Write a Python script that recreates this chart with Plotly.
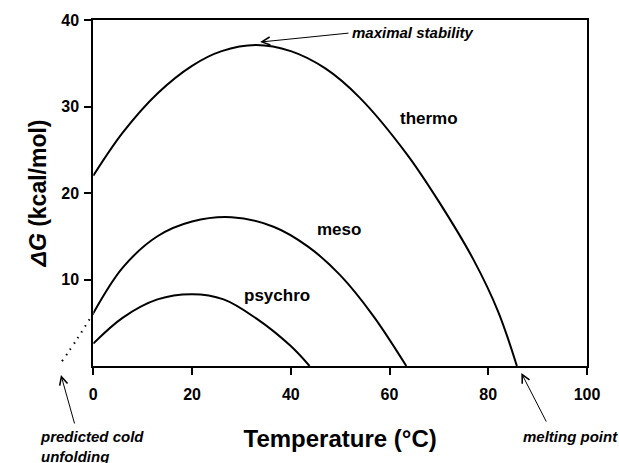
import plotly.graph_objects as go

# Stability curves: free energy of unfolding (kcal/mol) versus temperature (°C)
thermo_t = [0, 6, 13, 20, 26, 33, 40, 47, 54, 63.5, 70, 77, 82, 85.8]
thermo_dg = [22.0, 27.0, 31.5, 34.7, 36.4, 37.1, 36.4, 34.4, 31.0, 24.5, 19.0, 12.3, 6.3, 0.0]

meso_t = [0, 6, 13, 20, 28, 36.5, 43.5, 50, 56.7, 63.4]
meso_dg = [6.1, 11.4, 15.0, 16.7, 17.2, 16.1, 13.8, 10.5, 5.8, 0.0]

psychro_t = [0, 6, 13, 20, 26.4, 33, 40, 43.8]
psychro_dg = [2.6, 5.6, 7.7, 8.3, 7.7, 5.5, 2.3, 0.0]

# extrapolated (cold-denaturation) branch of the meso curve
cold_t = [0, -3.3, -6.5]
cold_dg = [6.1, 3.1, 0.4]

x_ticks = [0, 20, 40, 60, 80, 100]
y_ticks = [10, 20, 30, 40]

FONT = "Arial, Liberation Sans, sans-serif"
W, H = 619, 463
ML, MR, MT, MB = 50, 32, 20, 97
X_RANGE = [0, 100]
Y_RANGE = [0, 40]
X_EXT = -8          # left limit of the extended axis used by the dotted branch

D0 = 0.0806         # left edge of the main x domain (paper fraction)
D_EXT = D0 - (X_RANGE[0] - X_EXT) / (X_RANGE[1] - X_RANGE[0]) * (1 - D0)

plot_w = W - ML - MR
plot_h = H - MT - MB
SX = plot_w * (1 - D0) / (X_RANGE[1] - X_RANGE[0])   # px per °C
SY = plot_h / (Y_RANGE[1] - Y_RANGE[0])              # px per kcal/mol


def paper_x(t):
    return D0 + (t - X_RANGE[0]) / (X_RANGE[1] - X_RANGE[0]) * (1 - D0)


def paper_y(g):
    return (g - Y_RANGE[0]) / (Y_RANGE[1] - Y_RANGE[0])


line = dict(color="black", width=2, shape="spline", smoothing=1)

fig = go.Figure()
for t, g, name in [(thermo_t, thermo_dg, "thermo"),
                   (meso_t, meso_dg, "meso"),
                   (psychro_t, psychro_dg, "psychro")]:
    fig.add_trace(go.Scatter(x=t, y=g, mode="lines", line=line, name=name,
                             hoverinfo="skip"))

fig.add_trace(go.Scatter(x=cold_t, y=cold_dg, mode="lines", xaxis="x2", yaxis="y",
                         line=dict(color="black", width=2, dash="1.5px,5.5px",
                                   shape="spline"),
                         name="cold unfolding", hoverinfo="skip"))

axis_common = dict(
    showgrid=False, zeroline=False, showline=True, linecolor="black",
    linewidth=2, mirror=True, ticks="outside", ticklen=7, tickwidth=2,
    tickcolor="black",
    tickfont=dict(family=FONT, size=16, color="black", weight="bold"),
)

fig.update_layout(
    width=W, height=H,
    margin=dict(l=ML, r=MR, t=MT, b=MB),
    plot_bgcolor="rgba(0,0,0,0)", paper_bgcolor="white",
    showlegend=False,
    xaxis=dict(domain=[D0, 1], range=X_RANGE, tickvals=x_ticks,
               ticklabelstandoff=6,
               title=dict(text="<b>Temperature (°C)</b>",
                          font=dict(family=FONT, size=24, color="black"),
                          standoff=28),
               **axis_common),
    yaxis=dict(domain=[0, 1], range=Y_RANGE, tickvals=y_ticks,
               ticklabelstandoff=2,
               title=dict(text="<b><i>ΔG</i> (kcal/mol)</b>",
                          font=dict(family=FONT, size=23, color="black"),
                          standoff=8),
               **axis_common),
    xaxis2=dict(domain=[D_EXT, 1], range=[X_EXT, X_RANGE[1]], anchor="y",
                visible=False, showgrid=False, zeroline=False),
)

curve_label_font = dict(family=FONT, size=17, color="black")
note_font = dict(family=FONT, size=15, color="black")

annotations = [
    dict(x=68.0, y=28.6, xref="x", yref="y", text="<b>thermo</b>",
         showarrow=False, font=curve_label_font),
    dict(x=49.8, y=15.8, xref="x", yref="y", text="<b>meso</b>",
         showarrow=False, font=curve_label_font),
    dict(x=37.3, y=8.1, xref="x", yref="y", text="<b>psychro</b>",
         showarrow=False, font=curve_label_font),
    # maximal stability
    dict(x=64.8, y=38.5, xref="x", yref="y", text="<b><i>maximal stability</i></b>",
         showarrow=False, font=note_font),
    dict(x=33.8, y=37.45, xref="x", yref="y", text="", showarrow=True,
         ax=52.0, ay=38.5, axref="x", ayref="y",
         arrowhead=5, arrowsize=1.6, arrowwidth=1, arrowcolor="black"),
    # melting point
    dict(x=paper_x(96.6), y=paper_y(-8.1), xref="paper", yref="paper",
         xanchor="center", yanchor="middle",
         text="<b><i>melting point</i></b>", showarrow=False, font=note_font),
    dict(x=paper_x(86.7), y=paper_y(-0.81), xref="paper", yref="paper", text="",
         showarrow=True, ax=(91.9 - 86.7) * SX, ay=-(-6.59 + 0.81) * SY,
         axref="pixel", ayref="pixel",
         arrowhead=5, arrowsize=1.6, arrowwidth=1, arrowcolor="black"),
    # predicted cold unfolding
    dict(x=paper_x(-11.2), y=paper_y(-9.25), xref="paper", yref="paper",
         text="<b><i>predicted cold<br>unfolding</i></b>", showarrow=False,
         xanchor="left", yanchor="middle", align="left", font=note_font),
    dict(x=paper_x(-6.55), y=paper_y(-1.04), xref="paper", yref="paper", text="",
         showarrow=True, ax=(-3.71 + 6.55) * SX, ay=-(-6.82 + 1.04) * SY,
         axref="pixel", ayref="pixel",
         arrowhead=5, arrowsize=1.6, arrowwidth=1, arrowcolor="black"),
]
fig.update_layout(annotations=annotations)

fig.write_html("out.html")
